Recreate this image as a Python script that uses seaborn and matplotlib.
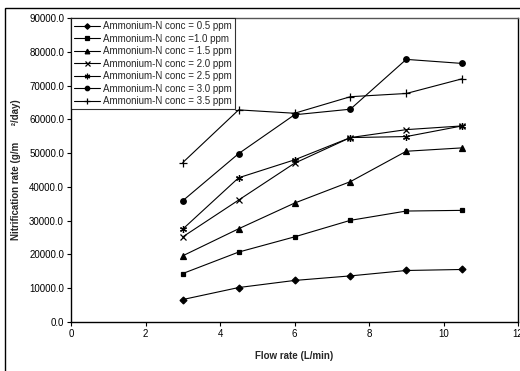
import matplotlib
matplotlib.use('Agg')
from matplotlib import pyplot as plt
from matplotlib.patches import Rectangle
import seaborn as sns
import pandas as pd

flow_rate = [3.0, 4.5, 6.0, 7.5, 9.0, 10.5]

labels = ["Ammonium-N conc = 0.5 ppm", "Ammonium-N conc =1.0 ppm",
          "Ammonium-N conc = 1.5 ppm", "Ammonium-N conc = 2.0 ppm",
          "Ammonium-N conc = 2.5 ppm", "Ammonium-N conc = 3.0 ppm",
          "Ammonium-N conc = 3.5 ppm"]

conc_05 = [6650, 10200, 12300, 13650, 15250, 15550]
conc_10 = [14350, 20700, 25200, 30100, 32850, 33050]
conc_15 = [19600, 27600, 35200, 41550, 50550, 51550]
conc_20 = [25200, 36100, 47000, 54600, 56950, 58050]
conc_25 = [27500, 42700, 48000, 54600, 54900, 58050]
conc_30 = [35900, 49850, 61350, 63000, 77750, 76550]
conc_35 = [47200, 62800, 61800, 66700, 67650, 72000]

series = [conc_05, conc_10, conc_15, conc_20, conc_25, conc_30, conc_35]
markers = ['D', 's', '^', 'x', (6, 2, 0), 'o', '+']
msizes = [3.5, 3.5, 4.2, 4.5, 5.0, 4.0, 5.5]

rows = []
for lab, vals in zip(labels, series):
    for x, y in zip(flow_rate, vals):
        rows.append({'flow': x, 'rate': y, 'conc': lab})
df = pd.DataFrame(rows)

sns.set_style("white")
plt.rcParams['font.family'] = ['Liberation Sans', 'DejaVu Sans']

fig = plt.figure(figsize=(5.2, 3.71), dpi=100)
ax = fig.add_axes([71 / 520, 1 - 322 / 371, 447 / 520, 304 / 371])

for lab, m, ms in zip(labels, markers, msizes):
    sub = df[df['conc'] == lab]
    sns.lineplot(data=sub, x='flow', y='rate', ax=ax, color='black', lw=0.8,
                 marker=m, markersize=ms, markeredgecolor='black',
                 markerfacecolor='black', markeredgewidth=0.9, label=lab)

ax.set_xlim(0, 12)
ax.set_ylim(0, 90000)
ax.set_xticks(range(0, 13, 2))
ax.set_yticks(range(0, 90001, 10000))
ax.set_yticklabels([f"{v:.1f}" for v in range(0, 90001, 10000)])
ax.tick_params(axis='both', direction='out', length=3, width=0.8, labelsize=7,
               pad=2, bottom=True, left=True, colors='black')
for side in ['left', 'bottom', 'right']:
    ax.spines[side].set_color('black')
    ax.spines[side].set_linewidth(1.0)
ax.spines['top'].set_color('#555555')
ax.spines['top'].set_linewidth(1.0)

ax.set_xlabel("Flow rate (L/min)", fontsize=7, fontweight='bold', labelpad=9)
ax.set_ylabel("Nitrification rate (g/m      \u00b2/day)", fontsize=7,
              fontweight='bold', labelpad=6)

leg = ax.legend(loc='upper left', bbox_to_anchor=(0, 1), borderaxespad=0,
                fontsize=7, frameon=True, fancybox=False, handlelength=2.6,
                handletextpad=0.3, labelspacing=0.25, borderpad=0.35,
                markerscale=0.8)
leg.get_frame().set_edgecolor('black')
leg.get_frame().set_linewidth(0.8)

# outer border of the original chart area
fig.patches.append(Rectangle((5 / 520, -0.1), 1.2, 1 - 8 / 371 + 0.1,
                             transform=fig.transFigure, fill=False,
                             edgecolor='black', lw=1.0))

fig.savefig('out.png', dpi=100)
